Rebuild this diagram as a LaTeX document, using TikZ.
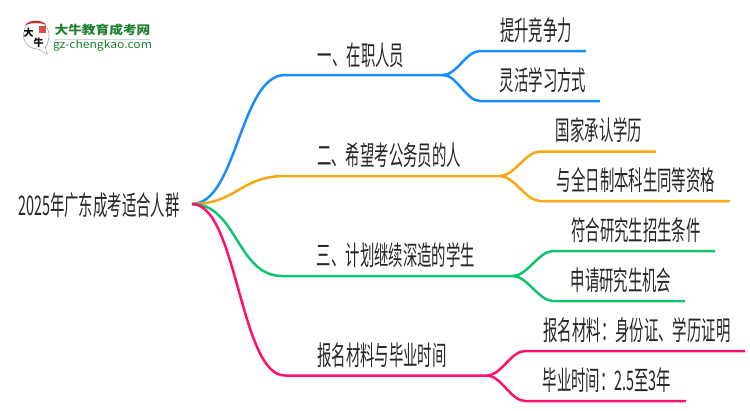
\documentclass[tikz,border=0pt]{standalone}
\usepackage{fontspec}
\setmainfont{Noto Sans CJK SC}
\usetikzlibrary{calc}
\definecolor{logogreen}{HTML}{1E7F2E}
\definecolor{logored}{HTML}{C8281E}
\definecolor{lineblue}{HTML}{1A8CFF}
\definecolor{lineorange}{HTML}{F5A80F}
\definecolor{linegreen}{HTML}{10C470}
\definecolor{linepink}{HTML}{FF0F6E}
\def\drawblue{\draw[color=lineblue, line width=2.5pt]}
\def\draworange{\draw[color=lineorange, line width=2.5pt]}
\def\drawgreen{\draw[color=linegreen, line width=2.5pt]}
\def\drawpink{\draw[color=linepink, line width=2.5pt]}
\tikzset{
  txt/.style={inner sep=0pt, text=black!85, font=\fontsize{27}{27}\selectfont, xscale=0.533, transform shape},
  fork/.style={to path={.. controls ($(\tikztostart)+(#1,0)$) and ($(\tikztotarget)+(-#1,0)$) .. (\tikztotarget)}}
}
\begin{document}
\begin{tikzpicture}[x=1pt,y=-1pt]
\useasboundingbox (0,0) rectangle (750,410);
\node[txt] (root) at (99,205) {2025年广东成考适合人群};
\node[txt] (a) at (361,55) {一、在职人员};
\node[txt] (a1) at (536,30) {提升竞争力};
\node[txt] (a2) at (543,80) {灵活学习方式};
\node[txt] (b) at (389,155) {二、希望考公务员的人};
\node[txt] (b1) at (599,130) {国家承认学历};
\node[txt] (b2) at (636,180) {与全日制本科生同等资格};
\node[txt] (c) at (396,255) {三、计划继续深造的学生};
\node[txt] (c1) at (636,230) {符合研究生招生条件};
\node[txt] (c2) at (621,280) {申请研究生机会};
\node[txt] (d) at (382,355) {报名材料与毕业时间};
\node[txt] (d1) at (637,330) {报名材料：身份证、学历证明};
\node[txt] (d2) at (607,380) {毕业时间：2.5至3年};
\coordinate (o) at (192,204);
\coordinate (as) at (285,75);
\coordinate (af) at (443,75);
\coordinate (a1s) at (480,51);
\coordinate (a2s) at (480,101);
\coordinate (a1e) at (586,51);
\coordinate (a2e) at (600,101);
\coordinate (bs) at (285,176);
\coordinate (bf) at (500,176);
\coordinate (b1s) at (540,151.5);
\coordinate (b2s) at (540,201);
\coordinate (b1e) at (656,151.5);
\coordinate (b2e) at (730,201);
\coordinate (cs) at (282,276);
\coordinate (cf) at (513,276);
\coordinate (c1s) at (553,251);
\coordinate (c2s) at (553,301);
\coordinate (c1e) at (715,251);
\coordinate (c2e) at (685,301);
\coordinate (ds) at (285,375.5);
\coordinate (df) at (487,375.5);
\coordinate (d1s) at (525,351);
\coordinate (d2s) at (525,401);
\coordinate (d1e) at (745,351);
\coordinate (d2e) at (686,401);
\drawblue (o) to[fork=45] (as) -- (af) to[fork=14] (a1s) -- (a1e);
\drawblue (af) to[fork=14] (a2s) -- (a2e);
\draworange (o) to[fork=45] (bs) -- (bf) to[fork=14] (b1s) -- (b1e);
\draworange (bf) to[fork=14] (b2s) -- (b2e);
\drawgreen (o) to[fork=45] (cs) -- (cf) to[fork=14] (c1s) -- (c1e);
\drawgreen (cf) to[fork=14] (c2s) -- (c2e);
\drawpink (o) to[fork=45] (ds) -- (df) to[fork=14] (d1s) -- (d1e);
\drawpink (df) to[fork=14] (d2s) -- (d2e);
% logo
\draw[black!35, line width=0.6pt, fill=white] (36,21) .. controls (28,21) and (23.5,28) .. (23.5,35) .. controls (23.5,43) and (30,49) .. (38,49) .. controls (41,50) and (44,53) .. (47.5,54) .. controls (46,51) and (45.5,49) .. (45.5,47) .. controls (48,43) and (49,39) .. (49,35) .. controls (49,27) and (43,21) .. (36,21) -- cycle;
\fill[logored] (25,25) .. controls (29,20) and (41,19) .. (46,24.5) .. controls (40,22.5) and (31,22.5) .. (25,25) -- cycle;
\fill[logored!80] (39,26) rectangle (46,33);
\node[inner sep=0pt, font=\fontsize{10}{10}\selectfont\bfseries] (logoa) at (28.5,32.5) {大};
\node[inner sep=0pt, font=\fontsize{10}{10}\selectfont\bfseries] (logob) at (38.5,42.5) {牛};
\node[inner sep=0pt, text=logogreen, font=\fontsize{12}{12}\selectfont\bfseries, xscale=1.14, transform shape] (logoc) at (102.5,29.5) {大牛教育成考网};
\node[inner sep=0pt, text=logogreen, font=\fontsize{11}{11}\selectfont, xscale=1.1, transform shape] (logod) at (102.5,45) {gz-chengkao.com};
\draw[logogreen!25, line width=0.8pt] (55,39) -- (150,39);
\end{tikzpicture}
\end{document}
